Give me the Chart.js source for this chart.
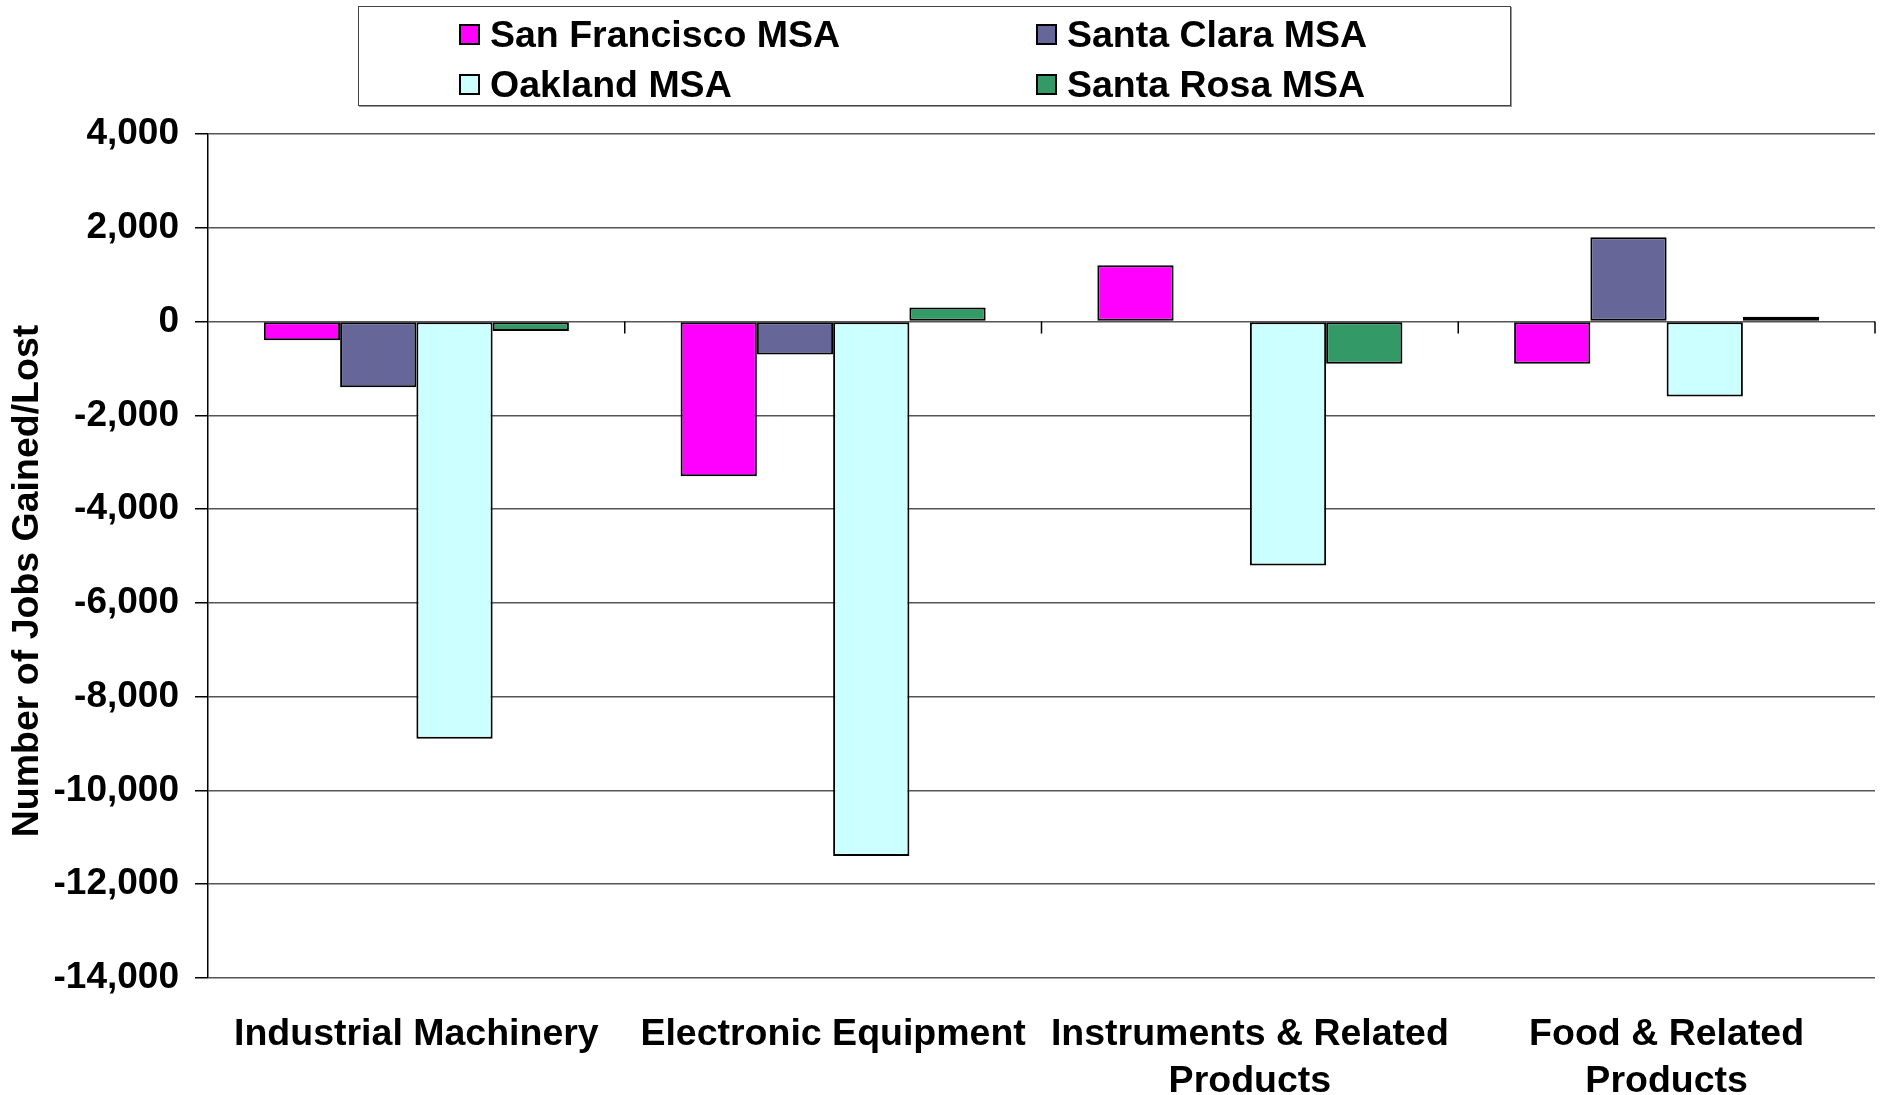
<!DOCTYPE html>
<html>
<head>
<meta charset="utf-8">
<script src="https://cdn.jsdelivr.net/npm/chart.js@4/dist/chart.umd.min.js"></script>
<style>
  body { margin: 0; background: #fff; }
  #wrap { position: relative; width: 1883px; height: 1095px; }
  #legenda {
    position: absolute; left: 358px; top: 6px; width: 1151px; height: 98px;
    border: 1.5px solid #444; box-shadow: 1px 1px 0 #999; background: #fff;
    font-family: "Liberation Sans", Arial, sans-serif; font-weight: bold; font-size: 37.5px;
  }
  .item { position: absolute; display: flex; align-items: center; height: 44px; white-space: nowrap; }
  .caixa { width: 17px; height: 17px; border: 2px solid #000; margin-right: 10px; }
</style>
</head>
<body>
<div id="wrap">
  <canvas id="grafico" width="1883" height="1095"></canvas>
  <div id="legenda"></div>
</div>
<script>
const categorias = ['Industrial Machinery', 'Electronic Equipment', ['Instruments & Related', 'Products'], ['Food & Related', 'Products']];
const nomesSeries = ['San Francisco MSA', 'Santa Clara MSA', 'Oakland MSA', 'Santa Rosa MSA'];
const coresSeries = ['#FF00FF', '#666699', '#CCFFFF', '#339966'];
const sanFrancisco = [-400, -3300, 1200, -900];
const santaClara = [-1400, -700, 0, 1800];
const oakland = [-8900, -11400, -5200, -1600];
const santaRosa = [-200, 300, -900, 100];
const ticksY = [4000, 2000, 0, -2000, -4000, -6000, -8000, -10000, -12000, -14000];

const valoresSeries = [sanFrancisco, santaClara, oakland, santaRosa];
const fonte = '"Liberation Sans", Arial, sans-serif';

// legenda em duas colunas
const legenda = document.getElementById('legenda');
const posLegenda = [[100, 5], [677, 5], [100, 55], [677, 55]];
for (let i = 0; i < nomesSeries.length; i++) {
    const item = document.createElement('div');
    item.className = 'item';
    item.style.left = posLegenda[i][0] + 'px';
    item.style.top = posLegenda[i][1] + 'px';
    item.innerHTML = '<div class="caixa" style="background:' + coresSeries[i] + '"></div>' + nomesSeries[i];
    legenda.appendChild(item);
}

const marcasZero = {
    id: 'marcasZero',
    afterDraw(chart) {
        const ctx = chart.ctx;
        const y = chart.scales.y;
        const y0 = y.getPixelForValue(0);
        const largura = (chart.chartArea.right - chart.chartArea.left) / categorias.length;
        ctx.save();
        ctx.strokeStyle = '#000';
        ctx.lineWidth = 1.5;
        for (let i = 1; i <= categorias.length; i++) {
            const px = chart.chartArea.left + i * largura;
            ctx.beginPath();
            ctx.moveTo(px, y0);
            ctx.lineTo(px, y0 + 12);
            ctx.stroke();
        }
        // titulo do eixo y
        ctx.translate(28, 581);
        ctx.rotate(-Math.PI / 2);
        ctx.fillStyle = '#000';
        ctx.font = 'bold 37.5px ' + fonte;
        ctx.textAlign = 'center';
        ctx.textBaseline = 'middle';
        ctx.fillText('Number of Jobs Gained/Lost', 0, 0);
        ctx.restore();
    }
};

const datasets = [];
for (let i = 0; i < nomesSeries.length; i++) {
    datasets.push({
        label: nomesSeries[i],
        data: valoresSeries[i],
        backgroundColor: coresSeries[i],
        borderColor: '#000',
        borderWidth: 2,
        borderSkipped: false,
        categoryPercentage: 0.732,
        barPercentage: 1
    });
}

new Chart(document.getElementById('grafico'), {
    type: 'bar',
    data: { labels: categorias, datasets: datasets },
    plugins: [marcasZero],
    options: {
        responsive: false,
        animation: false,
        layout: { padding: { top: 134, right: 8, left: 0, bottom: 0 } },
        plugins: { legend: { display: false }, tooltip: { enabled: false } },
        scales: {
            x: {
                grid: { display: false },
                border: { display: false },
                ticks: {
                    color: '#000',
                    padding: 25,
                    maxRotation: 0,
                    autoSkip: false,
                    font: { family: fonte, size: 37.5, weight: 'bold', lineHeight: 1.25 }
                },
                afterFit(scale) { scale.height = 117; }
            },
            y: {
                min: -14000,
                max: 4000,
                afterBuildTicks(scale) { scale.ticks = ticksY.map(v => ({ value: v })); },
                grid: { color: '#555', lineWidth: 1.5, tickColor: '#000', tickLength: 13 },
                border: { display: true, color: '#000', width: 1.5 },
                ticks: {
                    color: '#000',
                    padding: 16,
                    font: { family: fonte, size: 37, weight: 'bold' },
                    callback: v => v.toLocaleString('en-US')
                },
                afterFit(scale) { scale.width = 208; }
            }
        }
    }
});
</script>
</body>
</html>
